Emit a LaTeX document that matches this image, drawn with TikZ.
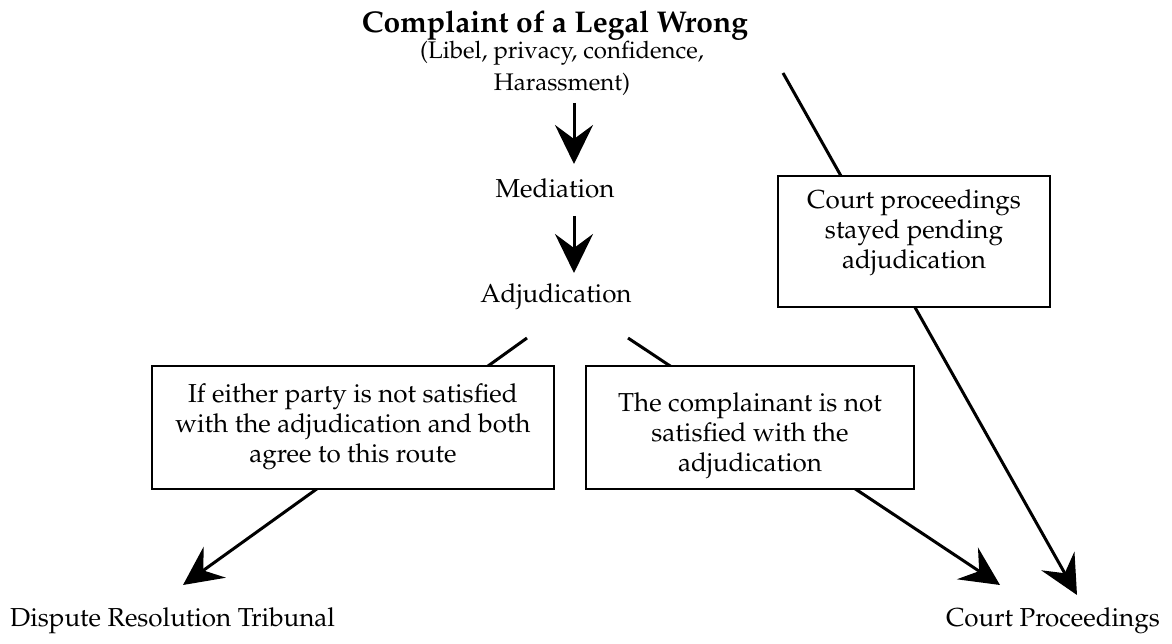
\documentclass[tikz,border=0pt]{standalone}
\usepackage[T1]{fontenc}
\usepackage{mathpazo}
\usetikzlibrary{arrows.meta}
\begin{document}
\begin{tikzpicture}[x=1pt,y=-1pt,
  body/.style={font=\fontsize{26}{30}\selectfont, inner sep=0pt},
  boxshape/.style={draw, line width=1.8pt, fill=white, inner sep=0pt},
  arr/.style={line width=3pt, -{Stealth[length=39pt,width=38pt,inset=14pt]}}]
\useasboundingbox (0,0) rectangle (1172,644);
% texts
\node[font=\fontsize{30}{34}\selectfont\bfseries, anchor=base, inner sep=0pt] (title) at (555,33) {Complaint of a Legal Wrong};
\node[font=\fontsize{24}{32}\selectfont, align=center, inner sep=0pt, anchor=north] (sub) at (562,41) {(Libel, privacy, confidence,\\Harassment)};
\node[body, anchor=base] (med) at (555,198) {Mediation};
\node[body, anchor=base] (adj) at (556,302) {Adjudication};
\node[body, anchor=base west] (drt) at (10,626) {Dispute Resolution Tribunal};
\node[body, anchor=base east] (cp) at (1160,626) {Court Proceedings};
% coordinates
\coordinate (a1s) at (574,103);
\coordinate (a1e) at (574,164);
\coordinate (a2s) at (574,216);
\coordinate (a2e) at (574,273);
\coordinate (ls) at (527,338);
\coordinate (le) at (183,585);
\coordinate (ms) at (628,338);
\coordinate (me) at (1000,585);
\coordinate (rs) at (783,73);
\coordinate (re) at (1077,595);
% arrows
\draw[arr] (a1s) -- (a1e);
\draw[arr] (a2s) -- (a2e);
\draw[arr] (ls) -- (le);
\draw[arr] (ms) -- (me);
\draw[arr] (rs) -- (re);
% boxes
\node[boxshape, minimum width=402pt, minimum height=123pt] (b1) at (353,427.5) {};
\node[boxshape, minimum width=328pt, minimum height=123pt] (b2) at (750,427.5) {};
\node[boxshape, minimum width=272pt, minimum height=131pt] (b3) at (914,241.5) {};
\node[body, align=center] (t1) at (353,427) {If either party is not satisfied\\with the adjudication and both\\agree to this route};
\node[body, align=center] (t2) at (750,436) {The complainant is not\\satisfied with the\\adjudication};
\node[body, align=center] (t3) at (914,233) {Court proceedings\\stayed pending\\adjudication};
\end{tikzpicture}
\end{document}
